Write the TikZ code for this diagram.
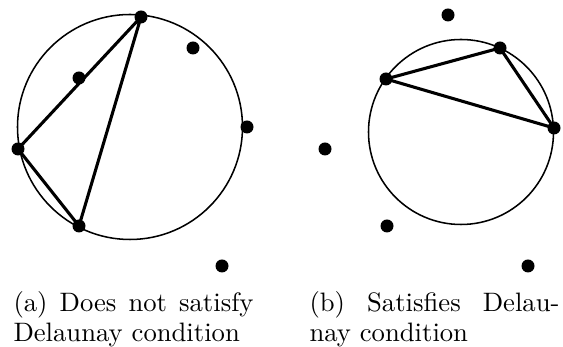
\documentclass[tikz,border=0pt]{standalone}
\begin{document}
\begin{tikzpicture}[x=0.39pt,y=-0.39pt,
  pt/.style={circle,fill=black,inner sep=0pt,minimum size=13*0.39pt},
  edge/.style={line width=1.2pt},
  ring/.style={line width=0.6pt},
  captext/.style={anchor=base west,inner sep=0pt,align=left,font=\fontsize{10.4pt}{11.7pt}\selectfont}]
\useasboundingbox (0,0) rectangle (563,347);
% left figure
\draw[ring] (130,127) circle [radius=112.5];
\node[pt] (a1) at (141,17) {};
\node[pt] (a2) at (193,48) {};
\node[pt] (a3) at (79,78) {};
\node[pt] (a4) at (247,127) {};
\node[pt] (a5) at (18,149) {};
\node[pt] (a6) at (79,226) {};
\node[pt] (a7) at (222,266) {};
\draw[edge] (a1.center) -- (a5.center) -- (a6.center) -- cycle;
% right figure
\draw[ring] (461,132) circle [radius=92.5];
\node[pt] (b1) at (448,15) {};
\node[pt] (b2) at (500,48) {};
\node[pt] (b3) at (386,79) {};
\node[pt] (b4) at (554,128) {};
\node[pt] (b5) at (325,149) {};
\node[pt] (b6) at (387,226) {};
\node[pt] (b7) at (528,266) {};
\draw[edge] (b3.center) -- (b2.center) -- (b4.center) -- cycle;
% captions
\node[captext] (ca) at (13,341.5) {\makebox[93.6pt][s]{(a) Does not satisfy}\\Delaunay condition};
\node[captext] (cb) at (309,341.5) {\makebox[97.5pt][s]{(b) Satisfies Delau-}\\nay condition};
\end{tikzpicture}
\end{document}
